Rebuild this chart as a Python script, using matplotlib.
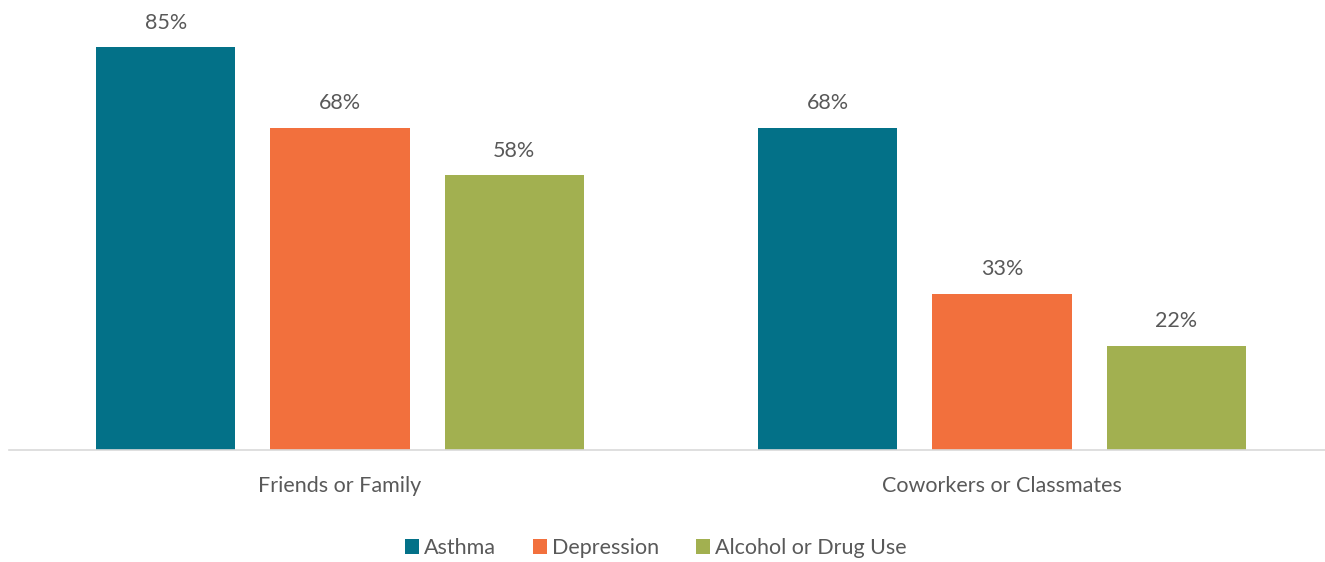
import matplotlib.pyplot as plt
import numpy as np

categories = ["Friends or Family", "Coworkers or Classmates"]
series_names = ["Asthma", "Depression", "Alcohol or Drug Use"]
asthma = [85, 68]
depression = [68, 33]
alcohol_drug = [58, 22]
colors = ["#037188", "#F2703D", "#A2B050"]

W, H = 1325, 562
fig = plt.figure(figsize=(W / 100, H / 100), dpi=100)
# axes spans pixel x 9..1325, y 0..450 (baseline)
ax = fig.add_axes([9 / W, (H - 450) / H, (1325 - 9) / W, 450 / H])

x = np.arange(len(categories))
width = 0.21
step = 0.263
text_color = "#595959"
font = "Lato"
fs = 15.5

handles = []
for i, (name, vals) in enumerate(zip(series_names, [asthma, depression, alcohol_drug])):
    pos = x + (i - 1) * step
    bars = ax.bar(pos, vals, width, color=colors[i], label=name)
    handles.append(bars)
    for b, v in zip(bars, vals):
        ax.text(b.get_x() + b.get_width() / 2, v + 3.0, f"{v}%", ha="center",
                va="bottom", fontsize=fs, color=text_color, family=font)

ax.set_xlim(-0.5, 1 + (1325 - 1002) / 662)
ax.set_ylim(0, 450 / 4.741)
for s in ["top", "right", "left"]:
    ax.spines[s].set_visible(False)
ax.spines["bottom"].set_color("#D9D9D9")
ax.spines["bottom"].set_linewidth(1.2)
ax.set_yticks([])
ax.set_xticks(x)
ax.set_xticklabels(categories, fontsize=fs, color=text_color, family=font)
ax.tick_params(axis="x", length=0, pad=19)

leg = fig.legend(handles=handles, labels=series_names, loc="center",
                 bbox_to_anchor=(656 / W, 1 - 548 / H), ncol=3, frameon=False,
                 handlelength=0.65, handleheight=0.65, handletextpad=0.25,
                 columnspacing=1.7, prop={"family": font, "size": fs})
for t in leg.get_texts():
    t.set_color(text_color)

fig.savefig("out.png", dpi=100)
